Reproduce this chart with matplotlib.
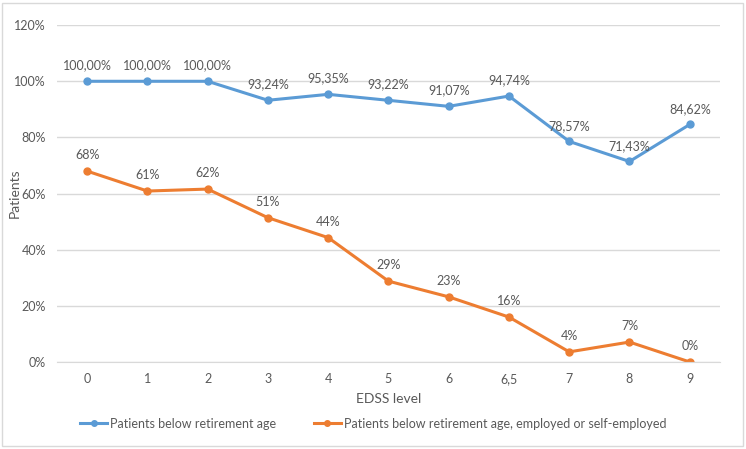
import matplotlib
matplotlib.use("Agg")
import matplotlib.pyplot as plt
from matplotlib.ticker import FuncFormatter

categories = ["0", "1", "2", "3", "4", "5", "6", "6,5", "7", "8", "9"]
below_retirement = [100.00, 100.00, 100.00, 93.24, 95.35, 93.22, 91.07, 94.74, 78.57, 71.43, 84.62]
employed = [68.0, 60.9, 61.6, 51.4, 44.3, 28.8, 23.2, 16.0, 3.6, 7.1, 0.0]
employed_labels = ["68%", "61%", "62%", "51%", "44%", "29%", "23%", "16%", "4%", "7%", "0%"]
y_ticks = [0, 20, 40, 60, 80, 100, 120]

plt.rcParams['font.family'] = ['Lato', 'DejaVu Sans']
txt = "#595959"
blue = "#5B9BD5"
orange = "#ED7D31"

fig = plt.figure(figsize=(7.46, 4.49), dpi=100)
ax = fig.add_axes([0.0764, 0.1938, 0.8886, 0.7502])

x = list(range(len(categories)))
l1, = ax.plot(x, below_retirement, color=blue, lw=2.2, marker='o', ms=5, label="Patients below retirement age")
l2, = ax.plot(x, employed, color=orange, lw=2.2, marker='o', ms=5,
              label="Patients below retirement age, employed or self-employed")

for xi, v in zip(x, below_retirement):
    ax.annotate(f"{v:.2f}%".replace('.', ','), (xi, v), xytext=(0, 7), textcoords='offset points',
                ha='center', va='bottom', fontsize=9, color=txt)
for xi, v, lab in zip(x, employed, employed_labels):
    ax.annotate(lab, (xi, v), xytext=(0, 7), textcoords='offset points',
                ha='center', va='bottom', fontsize=9, color=txt)

ax.set_xlim(-0.5, len(categories) - 0.5)
ax.set_ylim(0, 120)
ax.set_yticks(y_ticks)
ax.yaxis.set_major_formatter(FuncFormatter(lambda v, p: f"{int(v)}%"))
ax.set_xticks(x)
ax.set_xticklabels(categories)
ax.grid(axis='y', color="#D9D9D9", lw=1)
ax.set_axisbelow(True)
for s in ['top', 'right', 'left']:
    ax.spines[s].set_visible(False)
ax.spines['bottom'].set_color("#D9D9D9")
ax.tick_params(axis='both', length=0, labelsize=9, colors=txt, pad=8)
ax.set_xlabel("EDSS level", fontsize=10, color=txt, labelpad=6)
fig.text(15 / 746, 1 - 193 / 449, "Patients", rotation=90, ha='center', va='center', fontsize=10, color=txt)

fig.legend(handles=[l1, l2], loc='center', bbox_to_anchor=(0.5, 0.056), ncol=2, frameon=False,
           fontsize=9, labelcolor=txt, handlelength=2.2, columnspacing=3.0, handletextpad=0.2,
           markerscale=0.8)

fig.patches.append(plt.Rectangle((0.003, 0.006), 0.993, 0.988, transform=fig.transFigure,
                                 fill=False, edgecolor="#D9D9D9", lw=1))

fig.savefig("out.png", dpi=100)
